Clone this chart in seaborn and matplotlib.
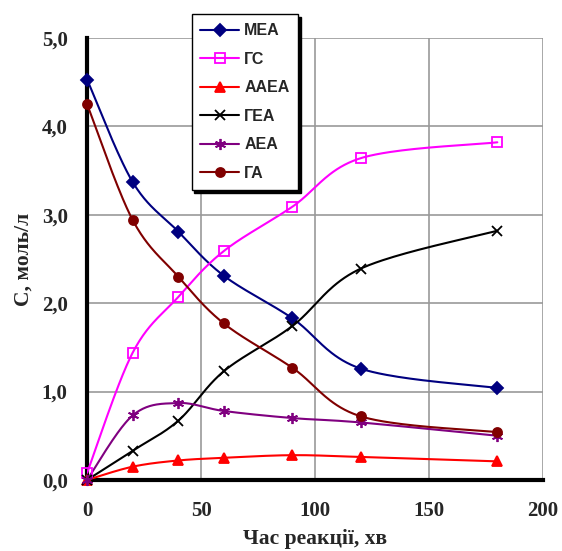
import numpy as np
import pandas as pd
import seaborn as sns
import matplotlib
matplotlib.use("Agg")
import matplotlib.pyplot as plt
from matplotlib.lines import Line2D
from matplotlib.ticker import FuncFormatter, MultipleLocator

# Reaction time, min
time_min = [0, 20, 40, 60, 90, 120, 180]

# Concentrations, mol/l
mea = [4.53, 3.37, 2.81, 2.31, 1.83, 1.26, 1.04]
gs = [0.08, 1.44, 2.07, 2.59, 3.09, 3.64, 3.82]
aaea = [0.0, 0.15, 0.22, 0.25, 0.28, 0.26, 0.21]
gea = [0.0, 0.33, 0.67, 1.23, 1.74, 2.39, 2.82]
aea = [0.0, 0.73, 0.87, 0.78, 0.70, 0.65, 0.50]
ga = [4.25, 2.94, 2.30, 1.77, 1.27, 0.72, 0.54]

series_names = ["МЕА", "ГС", "ААЕА", "ГЕА", "АЕА", "ГА"]
series_values = [mea, gs, aaea, gea, aea, ga]

styles = {
    "МЕА": dict(color="#000080", marker="D", ms=5.8, mfc="#000080"),
    "ГС": dict(color="#FF00FF", marker="s", ms=6.5, mfc="none"),
    "ААЕА": dict(color="#FF0000", marker="^", ms=7, mfc="#FF0000"),
    "ГЕА": dict(color="#000000", marker="x", ms=7, mfc="none"),
    "АЕА": dict(color="#800080", marker=(6, 2, 0), ms=8, mfc="none"),
    "ГА": dict(color="#800000", marker="o", ms=6.5, mfc="#800000"),
}


def smooth_curve(x, y, n=40):
    """Bezier smoothing through points (control points at 1/6 of neighbour span)."""
    p = np.column_stack([x, y]).astype(float)
    pp = np.vstack([p[0], p, p[-1]])
    out = []
    for i in range(len(p) - 1):
        p0, p1, p2, p3 = pp[i], pp[i + 1], pp[i + 2], pp[i + 3]
        c1 = p1 + (p2 - p0) / 6.0
        c2 = p2 - (p3 - p1) / 6.0
        t = np.linspace(0, 1, n, endpoint=(i == len(p) - 2))[:, None]
        seg = ((1 - t) ** 3) * p1 + 3 * ((1 - t) ** 2) * t * c1 + 3 * (1 - t) * t ** 2 * c2 + t ** 3 * p2
        out.append(seg)
    s = np.vstack(out)
    return s[:, 0], s[:, 1]


sns.set_style("white")
plt.rcParams["font.family"] = ["Liberation Serif", "DejaVu Serif"]

fig = plt.figure(figsize=(5.62, 5.51), dpi=100)
ax = fig.add_axes([0.155, 0.129, 0.811, 0.802])

curve_frames = []
point_frames = []
for name, vals in zip(series_names, series_values):
    sx, sy = smooth_curve(time_min, vals)
    curve_frames.append(pd.DataFrame({"t": sx, "c": sy, "s": name}))
    point_frames.append(pd.DataFrame({"t": time_min, "c": vals, "s": name}))
curves = pd.concat(curve_frames, ignore_index=True)
points = pd.concat(point_frames, ignore_index=True)

for name in series_names:
    st = styles[name]
    d = curves[curves["s"] == name]
    sns.lineplot(data=d, x="t", y="c", sort=False, color=st["color"], lw=1.5, ax=ax,
                 legend=False, zorder=3)
for name in series_names:
    st = styles[name]
    d = points[points["s"] == name]
    ax.plot(d["t"], d["c"], ls="none", marker=st["marker"], ms=st["ms"], mfc=st["mfc"],
            mec=st["color"], mew=1.3, zorder=4, clip_on=False)

ax.set_xlim(0, 200)
ax.set_ylim(0, 5)
ax.xaxis.set_major_locator(MultipleLocator(50))
ax.yaxis.set_major_locator(MultipleLocator(1))
ax.yaxis.set_major_formatter(FuncFormatter(lambda v, p: f"{v:.1f}".replace(".", ",")))
ax.xaxis.set_major_formatter(FuncFormatter(lambda v, p: f"{v:.0f}"))

ax.grid(True, color="#999999", lw=1.2)
ax.set_axisbelow(True)
for side in ["top", "right"]:
    ax.spines[side].set_visible(False)
for side in ["left", "bottom"]:
    ax.spines[side].set_color("black")
    ax.spines[side].set_linewidth(3)
ax.tick_params(axis="both", direction="out", length=5, width=2.5, color="black",
               labelsize=15)
ax.tick_params(axis="y", pad=9)
ax.tick_params(axis="x", pad=10)
for lab in ax.get_xticklabels() + ax.get_yticklabels():
    lab.set_fontweight("bold")

ax.set_xlabel("Час реакції, хв", fontsize=15.5, fontweight="bold", labelpad=6)
ax.set_ylabel("С, моль/л", fontsize=15.5, fontweight="bold", labelpad=6)

handles = [
    Line2D([0], [0], color=styles[n]["color"], lw=1.5, marker=styles[n]["marker"],
           ms=styles[n]["ms"], mfc=styles[n]["mfc"], mec=styles[n]["color"], mew=1.3)
    for n in series_names
]
leg = fig.legend(handles, series_names, loc="upper left", bbox_to_anchor=(0.341, 0.974),
                 frameon=True, fancybox=False, shadow={"color": "black", "alpha": 1.0},
                 handlelength=2.4, labelspacing=0.85, borderpad=0.55, handletextpad=0.35,
                 borderaxespad=0.0,
                 prop={"family": "Liberation Sans", "weight": "bold", "size": 11.5})
leg.get_frame().set_edgecolor("black")
leg.get_frame().set_linewidth(1.0)
leg.set_zorder(10)

fig.savefig("out.png", dpi=100)
